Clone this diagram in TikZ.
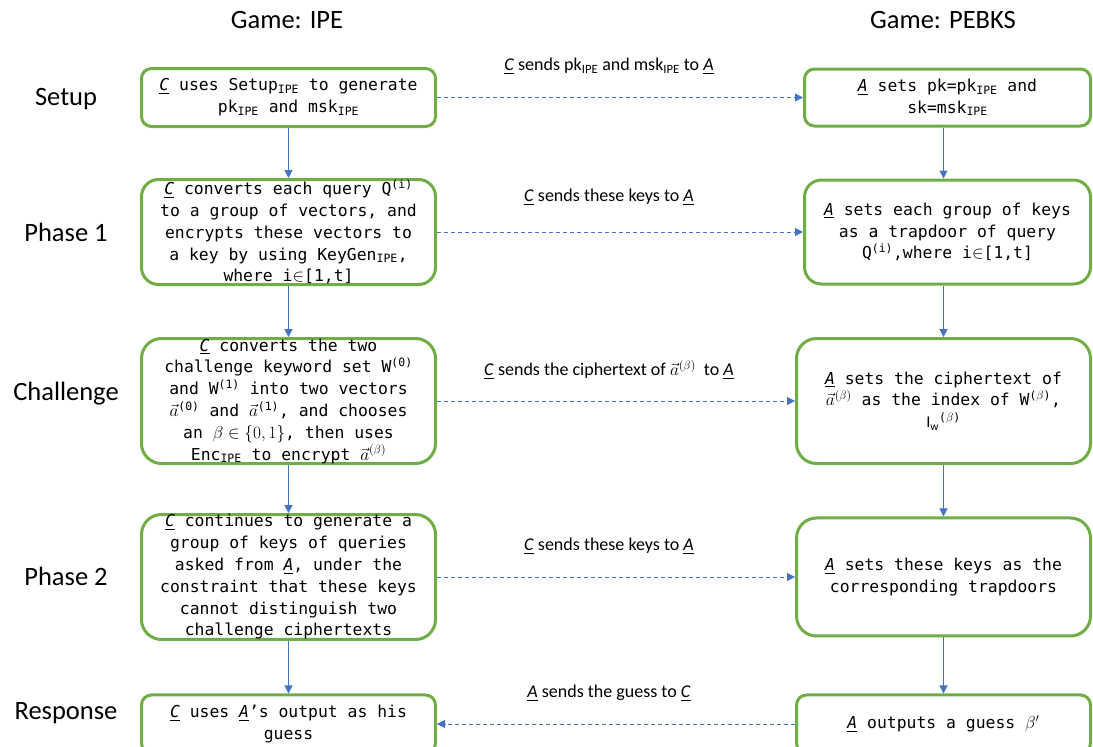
\documentclass[tikz,border=0pt]{standalone}
\usepackage{fontspec}
\setmainfont{Carlito}
\setsansfont{Carlito}
\setmonofont{DejaVu Sans Mono}
\usepackage{amsmath}
\usepackage{tikz}
\usetikzlibrary{positioning, calc, arrows.meta}
\newcommand{\subIPE}{\textsubscript{IPE}}
\newcommand{\ulC}{\underline{\textit{C}}}
\newcommand{\ulA}{\underline{\textit{A}}}
\definecolor{colorgreen}{HTML}{70AD47}
\definecolor{colorblue}{HTML}{4472C4}
\tikzstyle{stage}=[draw=colorgreen, line width=3pt, rounded corners=10pt, align=center, inner sep=0pt, font=\ttfamily\fontsize{16.4}{21.8}\selectfont]
\tikzstyle{phase}=[font=\fontsize{26.5}{32}\selectfont]
\tikzstyle{msg}=[font=\fontsize{18}{22}\selectfont, xshift=-7pt, yshift=31pt]
\tikzstyle{flow}=[-{Triangle[length=8pt,width=8pt]}, draw=colorblue, line width=1.1pt]
\tikzstyle{send}=[flow, line width=0.9pt, dash pattern=on 4pt off 3pt]

\begin{document}
\begin{tikzpicture}[x=1pt, y=-1pt]
\useasboundingbox (0,0) rectangle (1093,747);

\node[phase](tipe) at (287,20){Game: IPE};
\node[phase](tpebks) at (943,20){Game: PEBKS};

\node[phase](nsetup) at (66,99){Setup};
\node[phase](nphase1) at (66,232){Phase 1};
\node[phase](nchal) at (66,394){Challenge};
\node[phase](nphase2) at (66,576){Phase 2};
\node[phase](nresp) at (66,713){Response};

% game IPE
\node[stage, minimum width=294pt, minimum height=58pt](ls) at (288.5,97.5){\ulC{} uses Setup\subIPE{} to generate\\pk\subIPE{} and msk\subIPE};
\node[stage, below=50pt of ls, minimum width=294pt, minimum height=105pt, rounded corners=17pt](lp1){\ulC{} converts each query Q\textsuperscript{(i)}\\to a group of vectors, and\\encrypts these vectors to\\a key by using KeyGen\subIPE,\\where i{$\in$}[1,t]};
\node[stage, below=51pt of lp1, minimum width=294pt, minimum height=125pt, rounded corners=20pt](lc){\ulC{} converts the two\\challenge keyword set W\textsuperscript{(0)}\\and W\textsuperscript{(1)} into two vectors\\$\vec{a}$\textsuperscript{(0)} and $\vec{a}$\textsuperscript{(1)}, and chooses\\an $\beta\in\{0,1\}$, then uses\\Enc\subIPE{} to encrypt $\vec{a}^{(\beta)}$};
\node[stage, below=48pt of lc, minimum width=294pt, minimum height=122pt, rounded corners=20pt](lp2){\ulC{} continues to generate a\\group of keys of queries\\asked from \ulA, under the\\constraint that these keys\\cannot distinguish two\\challenge ciphertexts};
\node[stage, below=52.5pt of lp2, minimum width=294pt, minimum height=58pt](lr){\ulC{} uses \ulA’s output as his\\guess};

% game PEBKS
\node[stage, right=366pt of ls, minimum width=286pt, minimum height=57pt](rs){\ulA{} sets pk=pk\subIPE{} and\\sk=msk\subIPE};
\node[stage, right=366pt of lp1, minimum width=286pt, minimum height=104pt, rounded corners=17pt](rp1){\ulA{} sets each group of keys\\as a trapdoor of query\\Q\textsuperscript{(i)},where i{$\in$}[1,t]};
\node[stage, right=358pt of lc, minimum width=294pt, minimum height=125pt, rounded corners=20pt](rc){\ulA{} sets the ciphertext of\\$\vec{a}^{(\beta)}$ as the index of W\textsuperscript{($\beta$)},\\{\sffamily I\textsubscript{w}}\textsuperscript{($\beta$)}};
\node[stage, right=358pt of lp2, minimum width=294pt, minimum height=118pt, rounded corners=20pt](rp2){\ulA{} sets these keys as the\\corresponding trapdoors};
\node[stage, right=358pt of lr, minimum width=294pt, minimum height=58pt](rr){\ulA{} outputs a guess $\beta'$};

\draw[flow] (ls) -- (lp1);
\draw[flow] (lp1) -- (lc);
\draw[flow] (lc) -- (lp2);
\draw[flow] (lp2) -- (lr);

\draw[flow] (rs.south -| rc) -- (rp1.north -| rc);
\draw[flow] (rp1.south -| rc) -- (rc);
\draw[flow] (rc) -- (rp2);
\draw[flow] (rp2) -- (rr);

\draw[send] (ls) -- (rs) node[midway, msg, xshift=-4pt](mpk){\ulC{} sends pk\subIPE{} and msk\subIPE{} to \ulA};
\draw[send] (lp1) -- (rp1) node[midway, msg, xshift=-4pt, yshift=4pt](mkeys){\ulC{} sends these keys to \ulA};
\draw[send] (lc) -- (rc) node[midway, msg](mct){\ulC{} sends the ciphertext of $\vec{a}^{(\beta)}$\ \ to \ulA};
\draw[send] (lp2) -- (rp2) node[midway, msg](mkeys2){\ulC{} sends these keys to \ulA};
\draw[send] (rr) -- (lr) node[midway, msg](mguess){\ulA{} sends the guess to \ulC};

\end{tikzpicture}
\end{document}
